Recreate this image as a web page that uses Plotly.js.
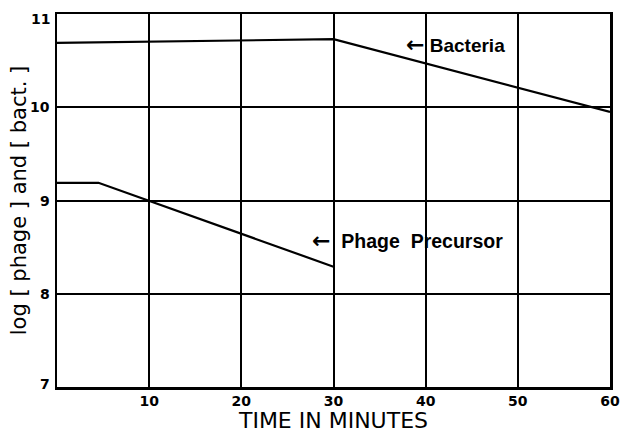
<!DOCTYPE html>
<html>
<head>
<meta charset="utf-8">
<script src="https://cdn.plot.ly/plotly-3.0.1.min.js"></script>
<style>html,body{margin:0;padding:0;background:#fff;}#chart{width:620px;height:433px;}</style>
</head>
<body>
<div id="chart"></div>
<script>
// Data
var bactTime = [0, 30, 60];
var bactLog = [10.69, 10.73, 9.95];
var phageTime = [0, 4.5, 30];
var phageLog = [9.19, 9.19, 8.29];
var xTickVals = [10, 20, 30, 40, 50, 60];
var xTickText = ['10', '20', '30', '40', '50', '60'];
var yTickVals = [7, 8, 9, 10, 11];
var yTickText = ['7', '8', '9', '10', '11'];

var lineStyle = {color: '#000', width: 2.2};
var traces = [
  {x: bactTime, y: bactLog, mode: 'lines', line: lineStyle, name: 'Bacteria', hoverinfo: 'skip'},
  {x: phageTime, y: phageLog, mode: 'lines', line: lineStyle, name: 'Phage Precursor', hoverinfo: 'skip'}
];

var annFont = {family: 'Liberation Sans Narrow, Arial Narrow, sans-serif', size: 19, color: '#000', weight: 'bold'};
var arrow = '<span style="font-family:DejaVu Sans;font-size:22px;font-weight:bold">←</span>';
var annotations = [
  {x: 37.7, y: 10.67, xref: 'x', yref: 'y', text: arrow + ' <b>Bacteria</b>', showarrow: false, xanchor: 'left', yanchor: 'middle', font: annFont},
  {x: 27.4, y: 8.57, xref: 'x', yref: 'y', text: arrow + '  <b>Phage  Precursor</b>', showarrow: false, xanchor: 'left', yanchor: 'middle', font: {family: annFont.family, size: 19.5, color: '#000', weight: 'bold'}}
];
// y tick labels as annotations (the top and bottom ones sit slightly inside the frame, as in the original)
yTickVals.forEach(function (v, i) {
  annotations.push({
    x: 0, y: v, xref: 'paper', yref: 'y', text: '<b>' + yTickText[i] + '</b>', showarrow: false,
    xanchor: 'right', yanchor: 'middle', xshift: -5, yshift: (v === 11 ? -5 : (v === 7 ? 3 : 0)),
    font: {family: 'DejaVu Sans, sans-serif', size: 14, color: '#000'}
  });
});

var layout = {
  width: 620, height: 433,
  margin: {l: 57, r: 10, t: 14, b: 46},
  paper_bgcolor: '#fff', plot_bgcolor: '#fff',
  showlegend: false,
  xaxis: {
    range: [0, 60], tickvals: xTickVals, ticktext: xTickText,
    showgrid: true, gridcolor: '#000', gridwidth: 2,
    showline: true, linecolor: '#000', linewidth: 2.5, mirror: true,
    zeroline: false, ticks: '', automargin: false, ticklabeloverflow: 'allow',
    tickfont: {family: 'DejaVu Sans, sans-serif', size: 14, color: '#000', weight: 'bold'},
    title: {text: 'TIME IN MINUTES', standoff: 6, font: {family: 'DejaVu Sans, sans-serif', size: 22, color: '#000'}}
  },
  yaxis: {
    range: [7, 11], tickvals: [8, 9, 10],
    showgrid: true, gridcolor: '#000', gridwidth: 2,
    showline: true, linecolor: '#000', linewidth: 2.5, mirror: true,
    zeroline: false, ticks: '', showticklabels: false, automargin: false,
    title: {text: 'log [ phage ] and [ bact. ]', standoff: 22, font: {family: 'DejaVu Sans, sans-serif', size: 21, color: '#000'}}
  },
  annotations: annotations
};

Plotly.newPlot('chart', traces, layout, {staticPlot: true, displayModeBar: false});
</script>
</body>
</html>
